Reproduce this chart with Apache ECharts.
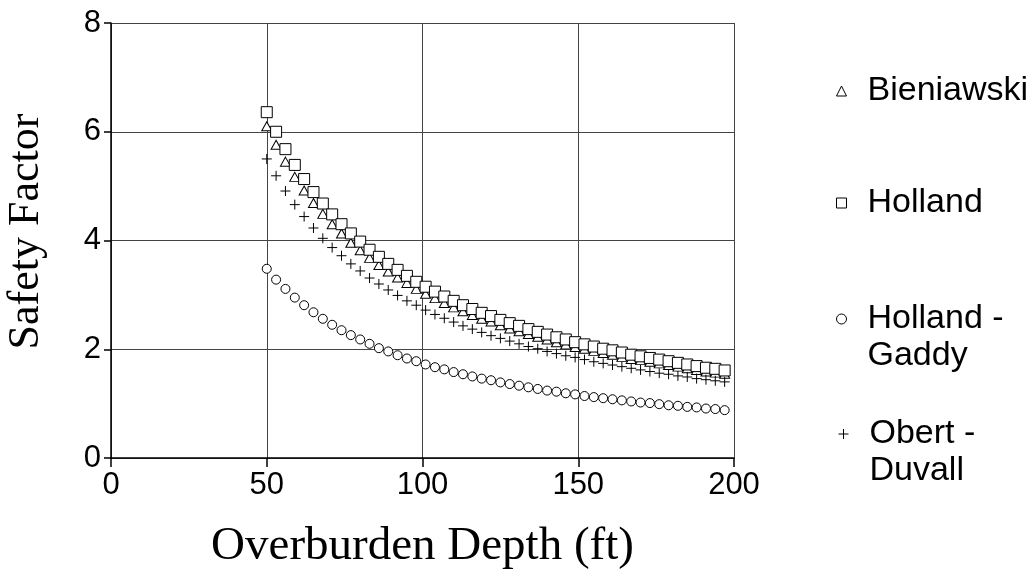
<!DOCTYPE html>
<html>
<head>
<meta charset="utf-8">
<script src="https://cdn.jsdelivr.net/npm/echarts@6/dist/echarts.min.js"></script>
<style>html,body{margin:0;padding:0;background:#fff}#c{width:1034px;height:580px}</style>
</head>
<body>
<div id="c"></div>
<script>
var depth = [50,53,56,59,62,65,68,71,74,77,80,83,86,89,92,95,98,101,104,107,110,113,116,119,122,125,128,131,134,137,140,143,146,149,152,155,158,161,164,167,170,173,176,179,182,185,188,191,194,197];
var bieniawski = [6.10,5.76,5.45,5.17,4.92,4.69,4.49,4.30,4.13,3.96,3.82,3.68,3.55,3.43,3.32,3.22,3.11,3.02,2.94,2.85,2.77,2.70,2.63,2.56,2.51,2.44,2.38,2.33,2.28,2.23,2.18,2.13,2.09,2.04,2.01,1.97,1.93,1.90,1.86,1.82,1.80,1.77,1.74,1.71,1.68,1.65,1.62,1.59,1.57,1.55];
var holland = [6.36,6.00,5.68,5.39,5.13,4.89,4.68,4.48,4.30,4.13,3.98,3.83,3.70,3.57,3.46,3.35,3.24,3.15,3.06,2.97,2.89,2.81,2.74,2.67,2.61,2.54,2.48,2.43,2.37,2.32,2.27,2.22,2.18,2.13,2.09,2.05,2.01,1.98,1.94,1.90,1.87,1.84,1.81,1.78,1.75,1.72,1.69,1.66,1.64,1.61];
var hollandGaddy = [3.48,3.28,3.11,2.95,2.81,2.68,2.56,2.45,2.35,2.26,2.18,2.10,2.02,1.96,1.89,1.83,1.78,1.72,1.67,1.63,1.58,1.54,1.50,1.46,1.43,1.39,1.36,1.33,1.30,1.27,1.24,1.22,1.19,1.17,1.14,1.12,1.10,1.08,1.06,1.04,1.02,1.01,0.99,0.97,0.96,0.94,0.93,0.91,0.90,0.88];
var obertDuvall = [5.50,5.19,4.91,4.66,4.44,4.23,4.04,3.87,3.72,3.57,3.44,3.31,3.20,3.09,2.99,2.89,2.81,2.72,2.64,2.57,2.50,2.43,2.37,2.31,2.25,2.20,2.15,2.10,2.05,2.01,1.96,1.92,1.88,1.85,1.81,1.77,1.74,1.71,1.68,1.65,1.62,1.59,1.56,1.54,1.51,1.49,1.46,1.44,1.42,1.40];
var seriesNames = ['Bieniawski','Holland','Holland - Gaddy','Obert - Duvall'];
var legendLines = [['Bieniawski'],['Holland'],['Holland -','Gaddy'],['Obert -','Duvall']];
var xTicks = [0,50,100,150,200];
var yTicks = [0,2,4,6,8];

function pairs(vals){ return depth.map(function(d,i){ return [d, vals[i]]; }); }
var plusPath = 'path://M0,5L10,5M5,0L5,10';
var symbols = ['triangle','rect','circle',plusPath];
var sizes = [[10,9],11,9,10];
var values = [bieniawski, holland, hollandGaddy, obertDuvall];

var series = seriesNames.map(function(n,i){
  return {
    name: n, type: 'scatter', data: pairs(values[i]),
    symbol: symbols[i], symbolSize: sizes[i],
    itemStyle: { color: i===3 ? 'none' : '#fff', borderColor: '#000', borderWidth: 1, opacity: 1 },
    z: 3 + i, silent: true
  };
});

var LH = 37;
var legendIconCenters = [91, 203, 319, 434];
var legends = seriesNames.map(function(n,i){
  var lines = legendLines[i];
  var twoLine = lines.length > 1;
  // for two-line labels, a blank first line puts the first text line level with the icon
  var label = twoLine ? ' \n' + lines.join('\n') : lines[0];
  return {
    show: true, orient: 'vertical', left: 836,
    top: twoLine ? legendIconCenters[i] - 1.5 * LH : legendIconCenters[i] - LH / 2,
    padding: 0, itemWidth: 10, itemHeight: 10, selectedMode: false,
    data: [{ name: n, icon: symbols[i], itemStyle: { color: i===3 ? 'none' : '#fff', borderColor: '#000', borderWidth: 1 } }],
    formatter: function(){ return label; },
    textStyle: { fontFamily: 'Liberation Sans, Arial, sans-serif', fontSize: 34, lineHeight: LH, color: '#000',
      padding: [0, 0, 0, 16] }
  };
});

var chart = echarts.init(document.getElementById('c'), null, { renderer: 'canvas' });
chart.setOption({
  animation: false,
  backgroundColor: '#fff',
  grid: { left: 111, right: 300, top: 23, bottom: 122, containLabel: false, outerBoundsMode: 'none' },
  xAxis: {
    type: 'value', min: xTicks[0], max: xTicks[xTicks.length-1], interval: 50,
    name: 'Overburden Depth (ft)', nameLocation: 'middle', nameGap: 65,
    nameTextStyle: { fontFamily: 'Liberation Serif, Times New Roman, serif', fontSize: 47, color: '#000' },
    axisLine: { show: true, lineStyle: { color: '#000', width: 1.5 } },
    axisTick: { show: true, inside: false, length: 9, lineStyle: { color: '#000', width: 1.5 } },
    axisLabel: { fontFamily: 'Liberation Sans, Arial, sans-serif', fontSize: 31, color: '#000', margin: 12 },
    splitLine: { show: true, lineStyle: { color: '#444', width: 1 } }
  },
  yAxis: {
    type: 'value', min: yTicks[0], max: yTicks[yTicks.length-1], interval: 2,
    name: 'Safety Factor', nameLocation: 'middle', nameGap: 63,
    nameTextStyle: { fontFamily: 'Liberation Serif, Times New Roman, serif', fontSize: 44, color: '#000', padding: [0, 0, 0, 18] },
    axisLine: { show: true, lineStyle: { color: '#000', width: 1.5 } },
    axisTick: { show: true, inside: false, length: 7, lineStyle: { color: '#000', width: 1.5 } },
    axisLabel: { fontFamily: 'Liberation Sans, Arial, sans-serif', fontSize: 31, color: '#000', margin: 10 },
    splitLine: { show: true, lineStyle: { color: '#444', width: 1 } }
  },
  legend: legends,
  series: series
});
</script>
</body>
</html>
